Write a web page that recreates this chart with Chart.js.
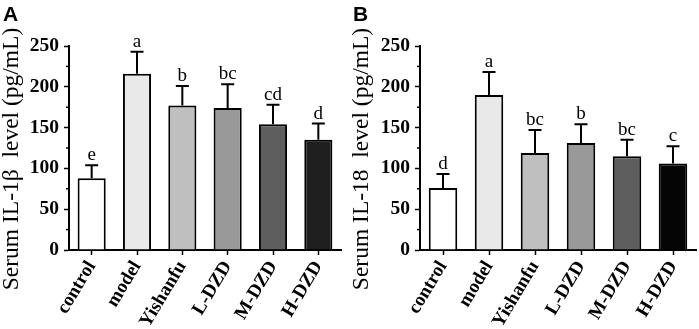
<!DOCTYPE html>
<html>
<head>
<meta charset="utf-8">
<script src="https://cdn.jsdelivr.net/npm/chart.js@4/dist/chart.umd.min.js"></script>
<style>
  html, body { margin: 0; padding: 0; background: #fff; }
  body { width: 699px; height: 329px; position: relative; overflow: hidden; }
  .panel { position: absolute; top: 0; height: 329px; }
  .tag { position: absolute; top: 2px; left: 3px; font: bold 21px 'Liberation Sans', Arial, sans-serif; color: #000; }
</style>
</head>
<body>
<div class="panel" style="left:0;width:350px;"><canvas id="chartA" width="350" height="329"></canvas><div class="tag">A</div></div>
<div class="panel" style="left:350px;width:349px;"><canvas id="chartB" width="349" height="329"></canvas><div class="tag">B</div></div>
<script>
const categories = ['control', 'model', 'Yishanfu', 'L-DZD', 'M-DZD', 'H-DZD'];
const yTicks = [0, 50, 100, 150, 200, 250];

const il1bMean = [88, 216, 177, 174, 154, 135];
const il1bSd = [16, 27, 24, 29, 24, 20];
const il1bLetters = ['e', 'a', 'b', 'bc', 'cd', 'd'];

const il18Mean = [76, 190, 119, 131, 115, 106];
const il18Sd = [17, 28, 28, 23, 20, 21];
const il18Letters = ['d', 'a', 'bc', 'b', 'bc', 'c'];

const colorsA = ['#ffffff', '#e9e9e9', '#bfbfbf', '#999999', '#5e5e5e', '#1f1f1f'];
const colorsB = ['#ffffff', '#e9e9e9', '#bfbfbf', '#999999', '#5e5e5e', '#050505'];

const serif = "'Liberation Serif', 'Times New Roman', serif";
Chart.defaults.font.family = serif;
Chart.defaults.color = '#000';

// error bars, significance letters, minor ticks and the y title
const panelExtras = {
    id: 'panelExtras',
    afterDatasetsDraw(chart, args, opts) {
        const { ctx, chartArea } = chart;
        const y = chart.scales.y;
        const meta = chart.getDatasetMeta(0);
        ctx.save();
        ctx.strokeStyle = '#000';
        ctx.fillStyle = '#000';
        ctx.lineWidth = 2;
        meta.data.forEach((bar, i) => {
            const top = y.getPixelForValue(opts.means[i]);
            const errTop = y.getPixelForValue(opts.means[i] + opts.sds[i]);
            ctx.beginPath();
            ctx.moveTo(bar.x, top);
            ctx.lineTo(bar.x, errTop);
            ctx.moveTo(bar.x - 6.5, errTop);
            ctx.lineTo(bar.x + 6.5, errTop);
            ctx.stroke();
            ctx.font = `19px ${serif}`;
            ctx.textAlign = 'center';
            ctx.textBaseline = 'alphabetic';
            ctx.fillText(opts.letters[i], bar.x, errTop - 5);
        });

        ctx.lineWidth = 1.5;
        for (let v = 25; v < 250; v += 50) {
            const py = y.getPixelForValue(v);
            ctx.beginPath();
            ctx.moveTo(chartArea.left - 3, py);
            ctx.lineTo(chartArea.left, py);
            ctx.stroke();
        }

        ctx.translate(18, 159);
        ctx.rotate(-Math.PI / 2);
        ctx.font = `23.5px ${serif}`;
        ctx.textAlign = 'center';
        ctx.textBaseline = 'alphabetic';
        ctx.fillText(opts.title, 0, 0);
        ctx.restore();
    }
};

const makeChart = (canvasId, means, sds, letters, colors, title, leftWidth, rightPad) => {
    return new Chart(document.getElementById(canvasId), {
        type: 'bar',
        data: {
            labels: categories,
            datasets: [{
                data: means,
                backgroundColor: colors,
                borderColor: '#000',
                borderWidth: 2,
                borderSkipped: 'bottom',
                barPercentage: 0.62,
                categoryPercentage: 1
            }]
        },
        options: {
            responsive: false,
            animation: false,
            devicePixelRatio: 1,
            layout: { padding: { top: 46, left: 0, right: rightPad, bottom: 0 } },
            scales: {
                x: {
                    afterFit: (scale) => { scale.height = 79; scale.paddingLeft = 0; scale.paddingRight = 0; },
                    grid: { display: true, drawOnChartArea: false, offset: false, tickLength: 5, tickColor: '#000', tickWidth: 1.5 },
                    border: { color: '#000', width: 2 },
                    ticks: {
                        minRotation: 59, maxRotation: 59, padding: 2,
                        font: { size: 19, weight: 'bold' }, color: '#000'
                    }
                },
                y: {
                    min: 0, max: 250,
                    afterFit: (scale) => { scale.width = leftWidth; },
                    afterBuildTicks: (scale) => { scale.ticks = yTicks.map((v) => ({ value: v })); },
                    grid: { display: true, drawOnChartArea: false, tickLength: 5, tickColor: '#000', tickWidth: 1.5 },
                    border: { color: '#000', width: 2 },
                    ticks: { padding: 5, font: { size: 19.5, weight: 'bold' }, color: '#000' }
                }
            },
            plugins: {
                legend: { display: false },
                tooltip: { enabled: false },
                panelExtras: { means, sds, letters, title }
            }
        },
        plugins: [panelExtras]
    });
};

makeChart('chartA', il1bMean, il1bSd, il1bLetters, colorsA, 'Serum IL-1\u03b2  level (pg/mL)', 69, 9);
makeChart('chartB', il18Mean, il18Sd, il18Letters, colorsB, 'Serum IL-18  level (pg/mL)', 70, 3);
</script>
</body>
</html>
